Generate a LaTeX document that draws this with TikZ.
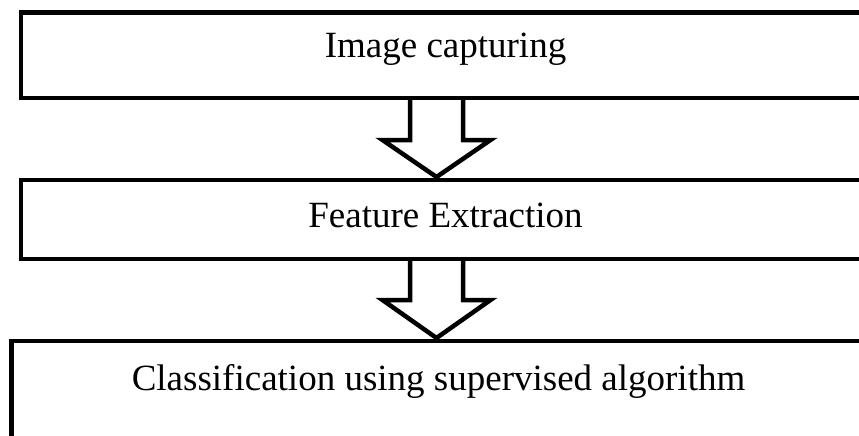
\documentclass[tikz,border=0pt]{standalone}
\usepackage{fontspec}
\setmainfont{Liberation Serif}
\usetikzlibrary{positioning,calc,backgrounds}

\begin{document}
\begin{tikzpicture}[
        x=1pt, y=-1pt,
        node distance=82pt,
        stagebox/.style={rectangle, draw, line width=4.5pt, outer sep=0pt,
            minimum width=849pt, minimum height=#1},
        stagetext/.style={anchor=base, inner sep=0pt, font=\fontsize{37}{44}\selectfont},
        hollowarrow/.style={draw, fill=white, line width=4.5pt, miter limit=10}
    ]
    \useasboundingbox (0,0) rectangle (859,436);

    \node[stagebox=85.5pt] (capture) at (445.5,55.25) {};
    \node[stagebox=79pt, below=of capture] (feature) {};
    \node[stagebox=100pt, minimum width=854pt, below=of feature, xshift=-7pt] (classify) {};

    \node[stagetext] (capturetxt) at ([yshift=-44.5pt]capture.north) {Image capturing};
    \node[stagetext] (featuretxt) at ([yshift=-47pt]feature.north) {Feature Extraction};
    \node[stagetext] (classifytxt) at ([yshift=-49.5pt]classify.north) {Classification using supervised algorithm};

    % block arrows between the stages
    \coordinate (axis) at (436.5,0);
    \begin{scope}[on background layer]
        \draw[hollowarrow] ($(capture.south -| axis)+(-26.5,0)$) -- ++(0,42) -- ++(-27.5,0)
            -- ($(feature.north -| axis)+(0,-3)$) -- ($(capture.south -| axis)+(54,42)$)
            -- ++(-27.5,0) -- ++(0,-42);
        \draw[hollowarrow] ($(feature.south -| axis)+(-26.5,0)$) -- ++(0,41) -- ++(-27.5,0)
            -- ($(classify.north -| axis)+(0,-3)$) -- ($(feature.south -| axis)+(54,41)$)
            -- ++(-27.5,0) -- ++(0,-41);
    \end{scope}
\end{tikzpicture}
\end{document}
